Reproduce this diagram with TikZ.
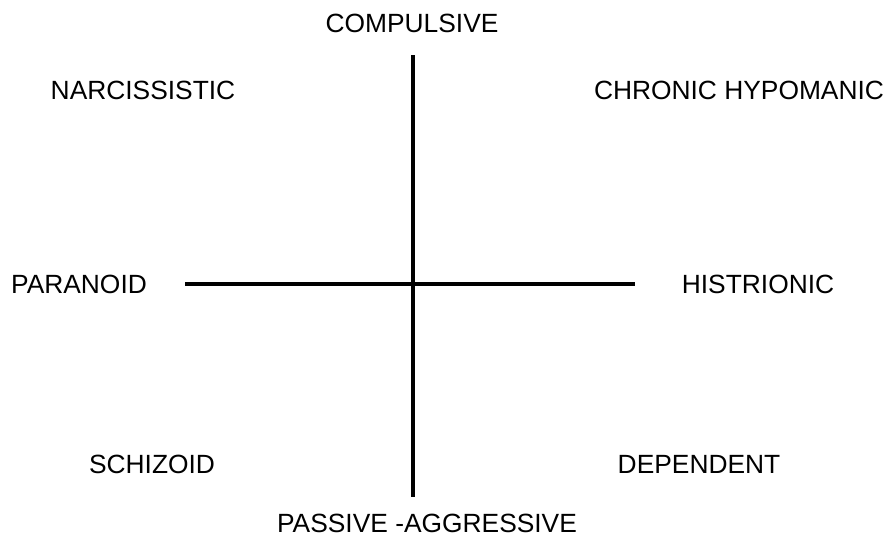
\documentclass[tikz,border=0pt]{standalone}
\usepackage{fontspec}
\setmainfont{Liberation Sans}
\usetikzlibrary{positioning}

\tikzset{
    trait/.style={inner sep=0pt, font=\fontsize{22.5}{26}\selectfont},
    axis/.style={line width=3pt, black}
}

\begin{document}
\begin{tikzpicture}[x=0.3mm, y=-0.3mm]
    \useasboundingbox (0,0) rectangle (887,538);

    % Axis ends
    \coordinate (top) at (413, 55);
    \coordinate (bottom) at (413, 497);
    \coordinate (left) at (185, 284);
    \coordinate (right) at (635, 284);

    % Poles
    \node[trait] (comp) at (412, 23) {COMPULSIVE};
    \node[trait] (pass) at (427, 523) {PASSIVE -AGGRESSIVE};
    \node[trait] (para) at (79, 284) {PARANOID};
    \node[trait] (hist) at (758, 284) {HISTRIONIC};

    % Quadrants
    \node[trait] (narc) at (143, 90) {NARCISSISTIC};
    \node[trait] (hypo) at (739, 90) {CHRONIC HYPOMANIC};
    \node[trait] (schiz) at (152, 464) {SCHIZOID};
    \node[trait] (dep) at (699, 464) {DEPENDENT};

    % Axes
    \draw[axis] (top) -- (bottom);
    \draw[axis] (left) -- (right);
\end{tikzpicture}
\end{document}
